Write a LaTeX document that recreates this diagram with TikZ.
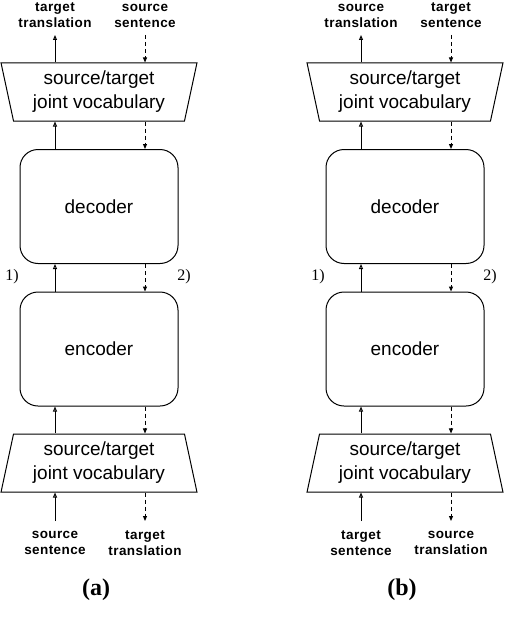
\documentclass[tikz,border=0pt]{standalone}
\usepackage{fontspec}
\setmainfont{Liberation Sans}
\newfontfamily\capfont{Liberation Serif}
\newfontfamily\lblfont[LetterSpace=3]{Liberation Sans}
\usetikzlibrary{shapes.geometric,arrows.meta,positioning}

\tikzset{
  vocab/.style={draw, trapezium, trapezium left angle=77, trapezium right angle=77,
    trapezium stretches=true, minimum width=196pt, minimum height=58pt, inner sep=0pt,
    align=center, font=\fontsize{19}{24}\selectfont},
  block/.style={draw, rounded corners=18pt, minimum width=158pt, minimum height=114pt,
    font=\fontsize{19}{24}\selectfont},
  lbl/.style={align=center, inner sep=0pt, outer sep=0pt, font=\lblfont\fontsize{13.5}{16}\selectfont\bfseries},
  num/.style={font=\capfont\fontsize{16}{18}\selectfont},
  fwd/.style={-{Triangle[open, length=5pt, width=4pt]}},
  bwd/.style={dashed, dash pattern=on 4pt off 3pt, -{Triangle[length=5pt, width=4pt]}},
}

\begin{document}
\begin{tikzpicture}[x=1pt, y=-1pt, line width=1pt]
  \useasboundingbox (0,0) rectangle (514,634);
  \foreach \n/\dx/\src/\tgt in {a/0/source/target, b/306/target/source}{
    \begin{scope}[xshift=\dx]
      \coordinate (sa\n) at (55,0);
      \coordinate (da\n) at (145,0);
      \node[vocab, shape border rotate=180] (vt\n) at (99,92) {source/target\\joint vocabulary};
      \node[block] (dec\n) at (99,206.5) {decoder};
      \node[block] (enc\n) at (99,349) {encoder};
      \node[vocab] (vb\n) at (99,463) {source/target\\joint vocabulary};

      \node[lbl, anchor=south] (tl\n) at (55,28) {\tgt\\translation};
      \node[lbl, anchor=south] (tr\n) at (145,28) {\src\\sentence};
      \node[lbl, anchor=north] (bl\n) at (55,531) {\src\\sentence};
      \node[lbl, anchor=north] (br\n) at (145,531) {\tgt\\translation};

      \node[num] (one\n) at (12,277) {1)};
      \node[num] (two\n) at (184,277) {2)};
      \node[font=\capfont\bfseries\fontsize{24}{28}\selectfont] (cap\n) at (96,590) {(\n)};

      \draw[fwd, shorten <=10pt] (bl\n.north) -- (vb\n.south -| sa\n);
      \draw[fwd] (vb\n.north -| sa\n) -- (enc\n.south -| sa\n);
      \draw[fwd] (enc\n.north -| sa\n) -- (dec\n.south -| sa\n);
      \draw[fwd] (dec\n.north -| sa\n) -- (vt\n.south -| sa\n);
      \draw[fwd, shorten >=7pt] (vt\n.north -| sa\n) -- (tl\n.south);

      \draw[bwd, shorten <=7pt] (tr\n.south) -- (vt\n.north -| da\n);
      \draw[bwd] (vt\n.south -| da\n) -- (dec\n.north -| da\n);
      \draw[bwd] (dec\n.south -| da\n) -- (enc\n.north -| da\n);
      \draw[bwd] (enc\n.south -| da\n) -- (vb\n.north -| da\n);
      \draw[bwd, shorten >=10pt] (vb\n.south -| da\n) -- (br\n.north);
    \end{scope}
  }
\end{tikzpicture}
\end{document}
